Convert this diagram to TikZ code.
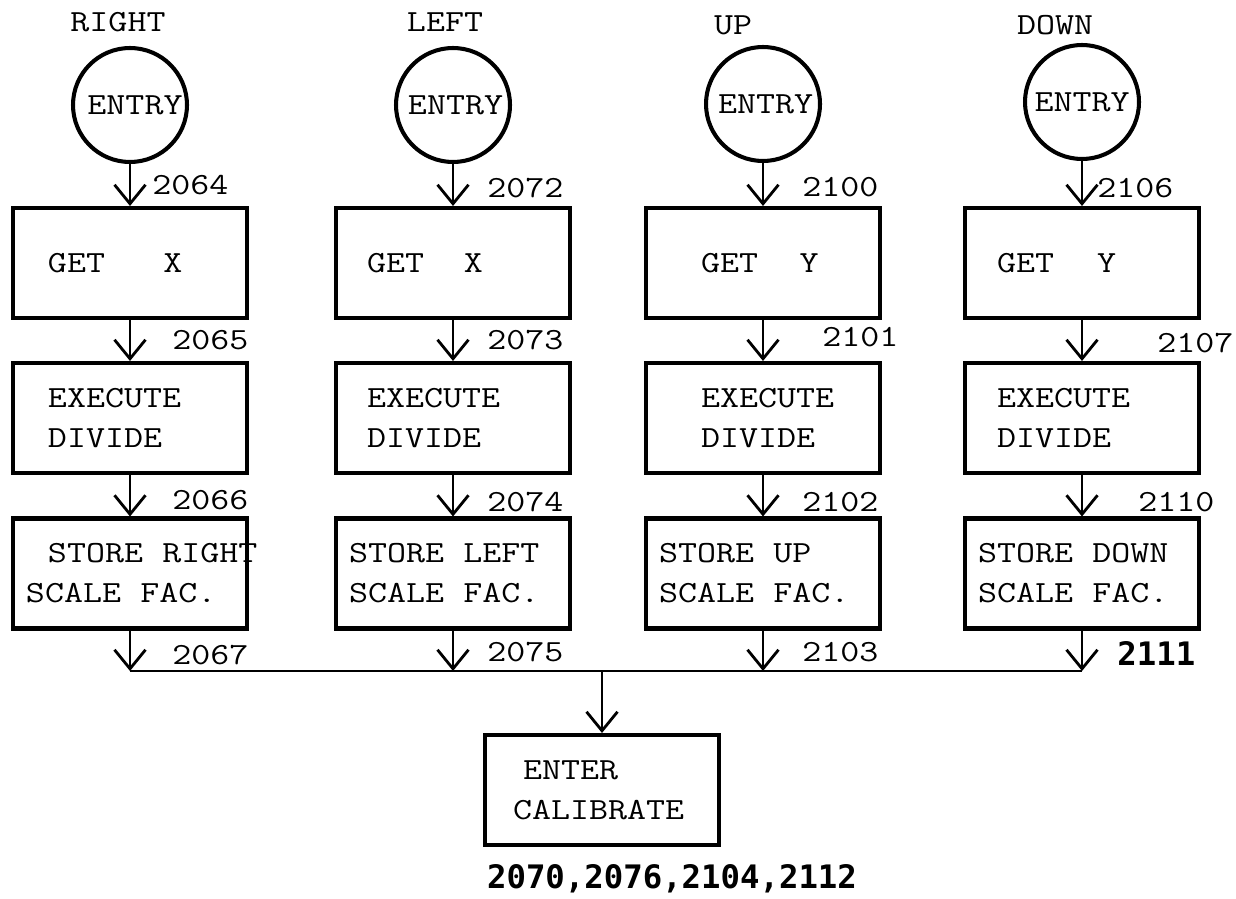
\documentclass[tikz,border=0pt]{standalone}
\usepackage{fontspec}
\usepackage{tikz}
\usetikzlibrary{arrows.meta}
\newfontfamily\typefont{Latin Modern Mono}[FakeStretch=1.2]
\newfontfamily\printfont{DejaVu Sans Mono}
\newcommand{\tsp}{\hspace{0.63em}}

\begin{document}
\begin{tikzpicture}[>={Straight Barb[length=0.38cm,width=0.62cm]},
		font=\typefont\fontsize{17.5}{22.7}\selectfont,
		flow/.style={->, line width=1.6pt},
		entry/.style={draw, circle, line width=2.3pt, minimum size=2.28cm, inner sep=0pt},
		block/.style={draw, rectangle, line width=2.3pt, minimum width=4.68cm, minimum height=2.2cm,
			text width=4.16cm, inner xsep=0.26cm, inner ysep=0pt, align=left},
		addr/.style={inner sep=0pt, anchor=west},
		print/.style={font=\printfont\bfseries\fontsize{18.4}{22}\selectfont}]
		\useasboundingbox (0,0) rectangle (24.72,-17.96);
		% headings and entry points
		\node[inner sep=0pt] (hr) at (2.36,-0.44) {RIGHT};
		\node[inner sep=0pt] (hl) at (8.9,-0.44) {LEFT};
		\node[inner sep=0pt] (hu) at (14.66,-0.5) {UP};
		\node[inner sep=0pt] (hd) at (21.1,-0.5) {DOWN};
		\node[entry] (er) at (2.6,-2.1) {\hspace*{0.2cm}ENTRY};
		\node[entry] (el) at (9.06,-2.1) {\hspace*{0.1cm}ENTRY};
		\node[entry] (eu) at (15.26,-2.08) {\hspace*{0.1cm}ENTRY};
		\node[entry] (ed) at (21.64,-2.04) {ENTRY};
		% get
		\node[block] (gr) at (2.6,-5.26) {\hspace*{0.44cm}GET\hspace{1.9em}X};
		\node[block] (gl) at (9.06,-5.26) {\hspace*{0.36cm}GET\hspace{1.3em}X};
		\node[block] (gu) at (15.26,-5.26) {\hspace*{0.84cm}GET\hspace{1.35em}Y};
		\node[block] (gd) at (21.64,-5.26) {\hspace*{0.38cm}GET\hspace{1.4em}Y};
		% divide
		\node[block] (xr) at (2.6,-8.36) {\hspace*{0.44cm}EXECUTE\\\hspace*{0.44cm}DIVIDE};
		\node[block] (xl) at (9.06,-8.36) {\hspace*{0.36cm}EXECUTE\\\hspace*{0.36cm}DIVIDE};
		\node[block] (xu) at (15.26,-8.36) {\hspace*{0.84cm}EXECUTE\\\hspace*{0.84cm}DIVIDE};
		\node[block] (xd) at (21.64,-8.36) {\hspace*{0.38cm}EXECUTE\\\hspace*{0.38cm}DIVIDE};
		% store
		\node[block] (sr) at (2.6,-11.47) {\hspace*{0.44cm}\mbox{STORE\tsp RIGHT}\\SCALE\tsp FAC.};
		\node[block] (sl) at (9.06,-11.47) {\mbox{STORE\tsp LEFT}\\SCALE\tsp FAC.};
		\node[block] (su) at (15.26,-11.47) {\mbox{STORE\tsp UP}\\SCALE\tsp FAC.};
		\node[block] (sd) at (21.64,-11.47) {\mbox{STORE\tsp DOWN}\\SCALE\tsp FAC.};
		\node[block] (cal) at (12.04,-15.8) {\hspace*{0.5cm}ENTER\\\hspace*{0.3cm}CALIBRATE};
		% joins on the common line
		\coordinate (jr) at (2.6,-13.42);
		\coordinate (jl) at (9.06,-13.42);
		\coordinate (ju) at (15.26,-13.42);
		\coordinate (jd) at (21.64,-13.42);
		\coordinate (jc) at (12.04,-13.42);
		\draw[flow] (er) -- (er |- gr.north);
		\draw[flow] (el) -- (el |- gl.north);
		\draw[flow] (eu) -- (eu |- gu.north);
		\draw[flow] (ed) -- (ed |- gd.north);
		\draw[flow] (gr) -- (xr);
		\draw[flow] (gl) -- (xl);
		\draw[flow] (gu) -- (xu);
		\draw[flow] (gd) -- (xd);
		\draw[flow] (xr) -- (sr);
		\draw[flow] (xl) -- (sl);
		\draw[flow] (xu) -- (su);
		\draw[flow] (xd) -- (sd);
		\draw[flow] (sr) -- (jr);
		\draw[flow] (sl) -- (jl);
		\draw[flow] (su) -- (ju);
		\draw[flow] (sd) -- (jd);
		\draw[line width=1.6pt] (jr) -- (jd);
		\draw[flow] (jc) -- (cal);
		% addresses
		\node[addr] (a2064) at (3.04,-3.7) {2064};
		\node[addr] (a2065) at (3.44,-6.8) {2065};
		\node[addr] (a2066) at (3.44,-10.0) {2066};
		\node[addr] (a2067) at (3.44,-13.1) {2067};
		\node[addr] (a2072) at (9.74,-3.76) {2072};
		\node[addr] (a2073) at (9.74,-6.8) {2073};
		\node[addr] (a2074) at (9.74,-10.04) {2074};
		\node[addr] (a2075) at (9.74,-13.04) {2075};
		\node[addr] (a2100) at (16.04,-3.74) {2100};
		\node[addr] (a2101) at (16.44,-6.74) {2101};
		\node[addr] (a2102) at (16.04,-10.04) {2102};
		\node[addr] (a2103) at (16.04,-13.04) {2103};
		\node[addr] (a2106) at (21.94,-3.76) {2106};
		\node[addr] (a2107) at (23.14,-6.86) {2107};
		\node[addr] (a2110) at (22.76,-10.04) {2110};
		\node[addr, print] (a2111) at (22.34,-13.06) {2111};
		\node[inner sep=0pt, print] (addrs) at (13.44,-17.58) {2070,2076,2104,2112};
	\end{tikzpicture}
\end{document}
